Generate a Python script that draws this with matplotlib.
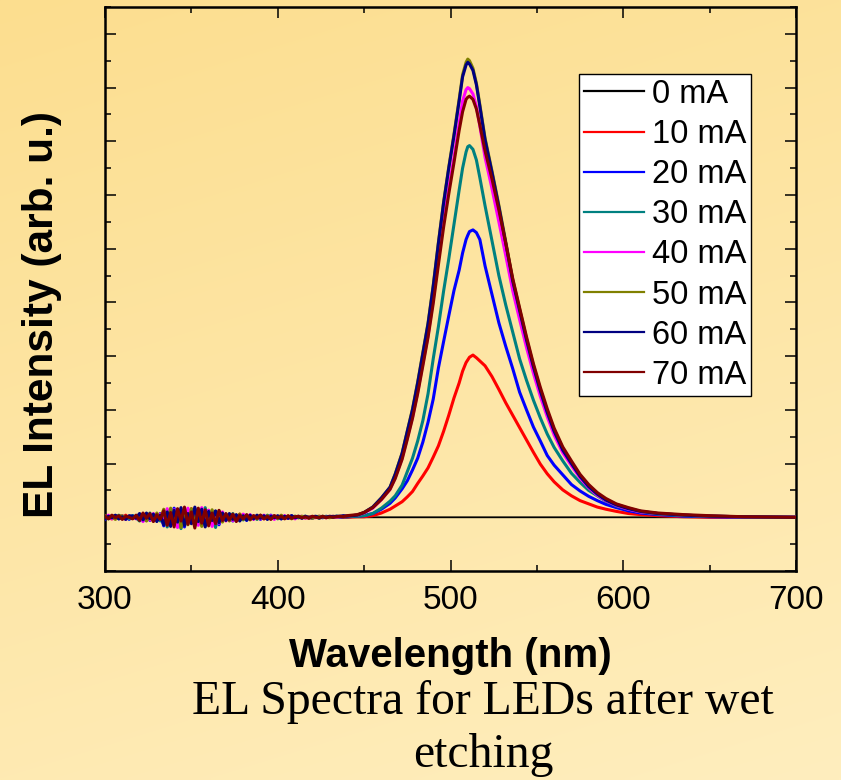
import numpy as np
import matplotlib
matplotlib.use("Agg")
import matplotlib.pyplot as plt
from matplotlib.lines import Line2D
from matplotlib.ticker import MultipleLocator

# ---------------------------------------------------------------- data
currents = ["0 mA", "10 mA", "20 mA", "30 mA", "40 mA", "50 mA", "60 mA", "70 mA"]
colors = ["#000000", "#ff0000", "#0000ff", "#008080",
          "#ff00ff", "#808000", "#000080", "#800000"]

# noise floor of the detector, sampled every 2 nm from 300 nm
noise_10 = [0.02, -0.01, -0.03, 0.03, 0.01, -0.02, 0.04, -0.02, -0.01, 0.02,
            -0.04, 0.06, -0.05, 0.03, -0.07, 0.05, -0.03,
            0.09, -0.11, 0.14, -0.12, 0.07, -0.15, 0.12, -0.06, 0.16, -0.14, 0.10, -0.09, 0.13, -0.12, 0.11, -0.08, 0.09, -0.05,
            0.04, -0.06, 0.05, -0.03, 0.06, -0.04, 0.02, -0.04,
            0.03, -0.02, 0.02, -0.03, 0.01, -0.02, 0.03, -0.02, 0.02, -0.01, 0.02, -0.02, 0.01,
            0.00, 0.01, -0.01, 0.01, 0.00, 0.01, -0.01, 0.00, 0.01, 0.00, 0.00, 0.01, 0.00, 0.00]
noise_20 = [-0.04, 0.02, -0.02, 0.03, -0.03, 0.02, 0.01, -0.04, 0.03, -0.01,
            0.06, -0.07, 0.05, -0.06, 0.04, -0.05, 0.07,
            -0.16, 0.12, -0.08, 0.17, -0.13, 0.09, -0.18, 0.14, -0.10, 0.16, -0.12, 0.08, -0.15, 0.13, -0.09, 0.11, -0.14, 0.06,
            -0.05, 0.06, -0.07, 0.03, -0.04, 0.05, -0.06, 0.03,
            -0.02, 0.03, -0.04, 0.02, -0.03, 0.04, -0.02, 0.01, -0.03, 0.02, -0.02, 0.03, -0.01,
            0.02, -0.01, 0.01, 0.00, -0.02, 0.01, 0.01, -0.01, 0.02, 0.00, 0.01, 0.01, 0.00, 0.01]
noise_30 = [0.01, -0.03, 0.03, -0.02, 0.04, -0.01, 0.02, -0.03, 0.03, -0.01,
            -0.07, 0.05, -0.04, 0.08, -0.06, 0.03, -0.07,
            0.10, -0.18, 0.13, -0.08, 0.15, -0.21, 0.11, -0.09, 0.14, -0.16, 0.07, -0.13, 0.18, -0.10, 0.09, -0.19, 0.12, -0.07,
            0.06, -0.04, 0.07, -0.06, 0.03, -0.05, 0.04, -0.03,
            0.02, -0.04, 0.03, -0.02, 0.04, -0.01, 0.02, -0.03, 0.03, -0.02, 0.01, -0.02, 0.02,
            -0.01, 0.01, 0.02, -0.01, 0.01, 0.01, -0.02, 0.02, 0.00, 0.01, 0.00, 0.02, 0.01, 0.01]
noise_40 = [-0.02, 0.04, -0.03, 0.02, -0.01, 0.03, -0.04, 0.02, 0.01, -0.03,
            0.05, -0.08, 0.06, -0.05, 0.07, -0.04, 0.06,
            -0.12, 0.16, -0.10, 0.14, -0.19, 0.09, -0.13, 0.17, -0.08, 0.12, -0.15, 0.18, -0.09, 0.13, -0.17, 0.07, -0.11, 0.10,
            -0.07, 0.05, -0.06, 0.04, -0.05, 0.06, -0.03, 0.05,
            -0.04, 0.02, -0.03, 0.04, -0.02, 0.03, -0.04, 0.02, -0.01, 0.03, -0.02, 0.02, -0.03,
            0.01, 0.02, -0.02, 0.01, 0.00, -0.01, 0.02, 0.01, -0.01, 0.01, 0.02, 0.00, 0.01, 0.02]
noise_50 = [0.03, -0.02, 0.01, -0.04, 0.02, 0.03, -0.03, 0.01, -0.02, 0.03,
            -0.05, 0.06, -0.07, 0.04, -0.06, 0.08, -0.03,
            0.15, -0.11, 0.17, -0.09, 0.12, -0.19, 0.08, -0.14, 0.16, -0.07, 0.13, -0.17, 0.10, -0.08, 0.14, -0.11, 0.06, -0.09,
            0.05, -0.07, 0.03, -0.05, 0.06, -0.04, 0.03, -0.05,
            0.02, -0.03, 0.04, -0.02, 0.03, -0.03, 0.02, -0.02, 0.04, -0.01, 0.02, -0.03, 0.02,
            -0.01, 0.02, -0.01, 0.01, -0.02, 0.01, 0.02, 0.00, 0.01, -0.01, 0.02, 0.01, 0.01, 0.02]
noise_60 = [-0.03, 0.02, -0.01, 0.04, -0.03, 0.01, -0.04, 0.03, 0.02, -0.02,
            0.07, -0.05, 0.08, -0.03, 0.06, -0.08, 0.04,
            -0.14, 0.10, -0.17, 0.13, -0.09, 0.18, -0.15, 0.07, -0.12, 0.19, -0.08, 0.15, -0.18, 0.11, -0.06, 0.12, -0.10, 0.08,
            -0.06, 0.07, -0.04, 0.05, -0.07, 0.03, -0.05, 0.04,
            -0.03, 0.04, -0.02, 0.03, -0.04, 0.02, -0.01, 0.03, -0.03, 0.02, -0.02, 0.03, -0.01,
            0.01, -0.02, 0.02, -0.01, 0.01, 0.02, -0.01, 0.01, 0.00, 0.02, 0.01, 0.02, 0.02, 0.03]
noise_70 = [0.02, -0.03, 0.04, -0.01, 0.03, -0.04, 0.02, 0.00, -0.03, 0.04,
            -0.06, 0.08, -0.02, 0.07, -0.08, 0.05, -0.04,
            0.12, -0.15, 0.09, -0.18, 0.16, -0.07, 0.19, -0.13, 0.10, -0.20, 0.17, -0.11, 0.14, -0.16, 0.08, -0.12, 0.13, -0.06,
            0.07, -0.05, 0.06, -0.08, 0.04, -0.03, 0.05, -0.04,
            0.03, -0.02, 0.04, -0.03, 0.02, -0.04, 0.03, -0.01, 0.02, -0.03, 0.03, -0.02, 0.01,
            0.02, -0.01, 0.01, -0.02, 0.02, 0.00, -0.01, 0.02, -0.01, 0.01, 0.00, 0.01, 0.02, 0.01]

# emission band (arb. u.), shared wavelength grid
band_nm = [440, 446, 450, 455, 460, 465, 468, 472, 475, 478,
           481, 484, 487, 490, 493, 496, 499, 502, 505, 507,
           509, 510, 511, 513, 515, 517, 520, 524, 528, 532,
           536, 540, 544, 548, 552, 556, 560, 565, 570, 575,
           580, 585, 590, 596, 603, 610, 620, 635, 650, 670, 700]
band_10 = [0.00, 0.01, 0.01, 0.03, 0.08, 0.15, 0.21, 0.29, 0.38, 0.48,
           0.63, 0.77, 0.92, 1.12, 1.33, 1.60, 1.90, 2.22, 2.50, 2.72,
           2.88, 2.93, 2.98, 3.02, 2.97, 2.91, 2.82, 2.62, 2.38, 2.13,
           1.90, 1.67, 1.44, 1.21, 0.99, 0.81, 0.66, 0.51, 0.40, 0.31,
           0.25, 0.19, 0.15, 0.11, 0.07, 0.05, 0.03, 0.01, 0.00, 0.00, 0.00]
band_20 = [0.01, 0.02, 0.03, 0.07, 0.15, 0.26, 0.36, 0.53, 0.68, 0.88,
           1.10, 1.40, 1.77, 2.20, 2.78, 3.27, 3.75, 4.22, 4.60, 4.92,
           5.17, 5.25, 5.32, 5.35, 5.30, 5.17, 4.68, 4.15, 3.62, 3.18,
           2.77, 2.33, 2.00, 1.68, 1.42, 1.15, 0.97, 0.79, 0.61, 0.49,
           0.39, 0.31, 0.24, 0.18, 0.12, 0.08, 0.05, 0.02, 0.01, 0.00, 0.00]
band_30 = [0.01, 0.02, 0.03, 0.07, 0.17, 0.30, 0.40, 0.60, 0.85, 1.10,
           1.42, 1.80, 2.30, 2.95, 3.55, 4.21, 4.81, 5.45, 6.09, 6.50,
           6.80, 6.90, 6.92, 6.85, 6.65, 6.32, 5.80, 5.15, 4.50, 3.95,
           3.45, 2.95, 2.55, 2.18, 1.85, 1.55, 1.30, 1.05, 0.82, 0.65,
           0.50, 0.40, 0.30, 0.21, 0.15, 0.10, 0.06, 0.03, 0.02, 0.01, 0.00]
band_40 = [0.02, 0.04, 0.08, 0.17, 0.33, 0.52, 0.74, 1.10, 1.48, 1.86,
           2.33, 2.86, 3.38, 4.05, 4.80, 5.50, 6.13, 6.70, 7.33, 7.75,
           7.96, 8.00, 7.98, 7.88, 7.65, 7.28, 6.70, 6.12, 5.50, 4.87,
           4.22, 3.68, 3.16, 2.68, 2.25, 1.87, 1.53, 1.20, 0.96, 0.73,
           0.55, 0.41, 0.31, 0.22, 0.15, 0.10, 0.07, 0.04, 0.02, 0.01, 0.00]
band_50 = [0.02, 0.04, 0.09, 0.19, 0.36, 0.56, 0.81, 1.20, 1.61, 2.02,
           2.52, 3.07, 3.62, 4.32, 5.12, 5.87, 6.52, 7.13, 7.78, 8.24,
           8.47, 8.53, 8.50, 8.36, 8.08, 7.68, 7.06, 6.45, 5.81, 5.13,
           4.43, 3.88, 3.33, 2.83, 2.38, 1.98, 1.63, 1.28, 1.02, 0.78,
           0.59, 0.44, 0.33, 0.24, 0.17, 0.11, 0.07, 0.04, 0.02, 0.01, 0.00]
band_60 = [0.02, 0.04, 0.09, 0.19, 0.36, 0.56, 0.80, 1.19, 1.60, 2.00,
           2.50, 3.05, 3.60, 4.30, 5.10, 5.85, 6.50, 7.10, 7.75, 8.20,
           8.42, 8.47, 8.44, 8.32, 8.05, 7.65, 7.03, 6.42, 5.78, 5.10,
           4.40, 3.85, 3.30, 2.80, 2.35, 1.95, 1.60, 1.25, 1.00, 0.76,
           0.57, 0.43, 0.32, 0.23, 0.16, 0.11, 0.07, 0.04, 0.02, 0.01, 0.00]
band_70 = [0.03, 0.05, 0.09, 0.18, 0.33, 0.52, 0.72, 1.08, 1.45, 1.84,
           2.30, 2.82, 3.35, 3.98, 4.70, 5.40, 6.02, 6.60, 7.20, 7.55,
           7.78, 7.82, 7.84, 7.78, 7.60, 7.30, 6.82, 6.30, 5.72, 5.10,
           4.45, 3.90, 3.36, 2.86, 2.42, 2.02, 1.66, 1.31, 1.05, 0.80,
           0.61, 0.46, 0.35, 0.25, 0.18, 0.12, 0.08, 0.05, 0.03, 0.01, 0.00]

# 0 mA: no emission, flat trace
dark_nm = [300, 330, 342, 350, 358, 366, 380, 420, 500, 600, 700]
dark_0 = [0.00, 0.01, -0.03, 0.02, -0.02, 0.01, -0.01, 0.00, 0.00, 0.00, 0.00]

noise = [noise_10, noise_20, noise_30, noise_40, noise_50, noise_60, noise_70]
bands = [band_10, band_20, band_30, band_40, band_50, band_60, band_70]

# ---------------------------------------------------------------- figure
W, H = 841, 780
fig = plt.figure(figsize=(W / 100, H / 100), dpi=100)

# warm yellow backdrop, deeper towards the upper left
bg = fig.add_axes([0, 0, 1, 1], zorder=-10)
yy, xx = np.mgrid[0:1:200j, 0:1:200j]
t = np.clip(0.75 * yy + 0.25 * xx, 0, 1)[..., None]
top = np.array([252, 222, 143]) / 255
bottom = np.array([255, 238, 190]) / 255
bg.imshow(top * (1 - t) + bottom * t, aspect="auto", extent=[0, 1, 0, 1],
          interpolation="bilinear")
bg.axis("off")

ax = fig.add_axes([105 / W, 1 - 571 / H, 691 / W, 564 / H])
ax.set_facecolor("none")

ax.plot(dark_nm, dark_0, color=colors[0], lw=1.3, zorder=2)
for vals_n, vals_b, c in zip(noise, bands, colors[1:]):
    x = np.concatenate([300 + 2 * np.arange(len(vals_n)), band_nm])
    y = np.concatenate([vals_n, vals_b])
    ax.plot(x, y, color=c, lw=2.2, zorder=3)

ax.set_xlim(300, 700)
ax.set_ylim(-1, 9.5)
ax.xaxis.set_major_locator(MultipleLocator(100))
ax.xaxis.set_minor_locator(MultipleLocator(50))
ax.yaxis.set_major_locator(MultipleLocator(1))
ax.yaxis.set_minor_locator(MultipleLocator(0.5))
ax.tick_params(which="both", direction="in", top=True, right=True,
               labelleft=False, width=1.1, color="black")
ax.tick_params(which="major", length=8)
ax.tick_params(which="minor", length=4.5)
ax.tick_params(axis="x", which="major", pad=10, labelsize=24)
for lab in ax.get_xticklabels():
    lab.set_family("Liberation Sans")
for s in ax.spines.values():
    s.set_linewidth(1.8)

ax.set_xlabel("Wavelength (nm)", family="Liberation Sans", weight="bold",
              fontsize=29)
ax.xaxis.set_label_coords(450 / W, 1 - 667 / H, transform=fig.transFigure)
ax.xaxis.label.set_va("baseline")

ax.set_ylabel("EL Intensity (arb. u.)", family="Liberation Sans",
              weight="bold", fontsize=30.5)
ax.yaxis.set_label_coords(53 / W, 1 - 314 / H, transform=fig.transFigure)
ax.yaxis.label.set_va("baseline")
ax.yaxis.label.set_rotation_mode("anchor")

handles = [Line2D([], [], color=c, lw=1.6) for c in colors]
leg = ax.legend(handles, currents, loc="upper left",
                bbox_to_anchor=((579 - 105) / 691, (571 - 74) / 564),
                prop=dict(family="Liberation Sans", size=23.5),
                frameon=True, fancybox=False, edgecolor="black",
                framealpha=1, borderpad=0.15, handlelength=1.84,
                handletextpad=0.25, labelspacing=0.28, borderaxespad=0)
leg.get_frame().set_linewidth(1.0)

fig.text(483 / W, 1 - 714 / H, "EL Spectra for LEDs after wet",
         family="Liberation Serif", fontsize=34.3, ha="center", va="baseline")
fig.text(483 / W, 1 - 767 / H, "etching",
         family="Liberation Serif", fontsize=34.3, ha="center", va="baseline")

fig.savefig("out.png", dpi=100)
